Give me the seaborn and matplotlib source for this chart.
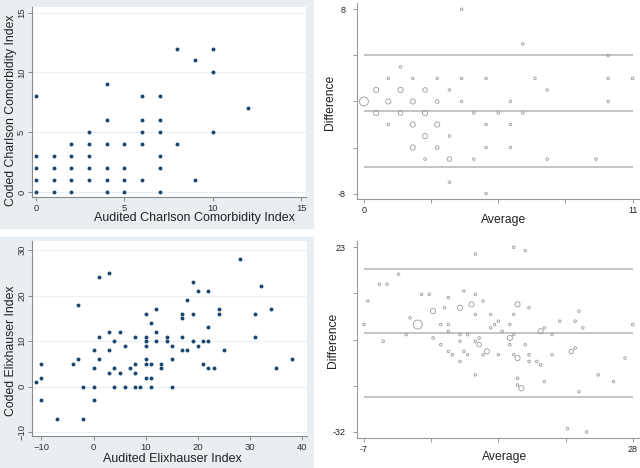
import numpy as np
import pandas as pd
import seaborn as sns
import matplotlib.pyplot as plt
from matplotlib.patches import Rectangle

# Charlson index: audited vs coded value per patient group, n = patients at that pair
ch_audited = [0, 0, 0, 0, 0,
              1, 1, 1, 1,
              2, 2, 2, 2, 2,
              3, 3, 3, 3, 3,
              4, 4, 4, 4, 4, 4,
              5, 5, 5, 5,
              6, 6, 6, 6, 6,
              7, 7, 7, 7, 7, 7,
              8, 8, 9, 9, 10, 10, 10, 12]
ch_coded = [8, 3, 2, 1, 0,
            3, 2, 1, 0,
            4, 3, 2, 1, 0,
            5, 4, 3, 2, 1,
            9, 6, 4, 2, 1, 0,
            4, 2, 1, 0,
            8, 6, 5, 4, 1,
            8, 6, 5, 3, 2, 0,
            12, 4, 11, 1, 12, 10, 5, 7]
ch_n = [1, 1, 1, 4, 12,
        1, 4, 4, 4,
        1, 3, 4, 3, 1,
        1, 1, 2, 4, 4,
        1, 1, 1, 4, 4, 4,
        1, 1, 2, 1,
        1, 1, 1, 1, 3,
        1, 1, 1, 1, 1, 1,
        1, 1, 1, 1, 1, 1, 1, 1]

# Elixhauser index
el_audited = [-11, -10, -10, -10, -7, -4, -3, -3, -2, -2,
              0, 0, 0, 0, 1, 1, 1, 3, 3, 3, 3, 4, 4, 4, 5, 5, 6, 6, 7,
              8, 8, 8, 8, 9, 10, 10, 10, 10, 10, 10, 10, 11, 11, 11, 11,
              12, 12, 12, 13, 13, 14, 14, 15, 15, 15, 17, 17, 17, 17,
              18, 18, 19, 19, 19, 20, 20, 21, 21, 22, 22, 22, 22, 23,
              24, 24, 25, 28, 31, 31, 32, 34, 35, 38]
el_coded = [1, 5, 2, -3, -7, 5, 18, 6, 0, -7,
            8, 4, 0, -3, 24, 11, 6, 25, 12, 8, 3, 10, 4, 0, 12, 3, 9, 0, 4,
            11, 5, 3, 0, 0, 16, 11, 10, 9, 6, 5, 2, 14, 5, 2, 0,
            17, 12, 10, 5, 4, 11, 10, 9, 6, 0, 16, 15, 11, 8,
            19, 8, 23, 16, 10, 21, 9, 10, 5, 21, 13, 10, 4, 4,
            17, 16, 8, 28, 16, 11, 22, 17, 4, 6]
el_n = [1, 1, 1, 1, 1, 1, 1, 1, 1, 1,
        1, 4, 12, 1, 1, 1, 1, 1, 1, 4, 1, 4, 1, 1, 1, 1, 1, 1, 1,
        1, 1, 1, 1, 1, 4, 1, 1, 1, 1, 1, 1, 1, 3, 1, 1,
        1, 1, 1, 4, 1, 1, 4, 1, 1, 1, 1, 4, 1, 1,
        1, 4, 1, 1, 1, 1, 1, 1, 1, 1, 1, 1, 1, 4,
        1, 3, 1, 1, 1, 1, 1, 1, 1, 1]

# mean difference and limits of agreement as drawn
ch_limits = [4.0, -0.84, -5.7]
el_limits = [16.5, -2.5, -21.7]

ch_ticks = [0, 5, 10, 15]
el_xticks = [-10, 0, 10, 20, 30, 40]
el_yticks = [-10, 0, 10, 20, 30]
ba1_xticks = [0, 2.75, 5.5, 8.25, 11]
ba1_yticks = [-8, -4, 0, 4, 8]
ba2_xticks = [-7, 1.75, 10.5, 19.25, 28]
ba2_yticks = [-32, -18.25, -4.5, 9.25, 23]

sns.set_style("white")
plt.rcParams['font.family'] = ['Liberation Sans', 'DejaVu Sans']

W, H = 640, 468
fig = plt.figure(figsize=(6.4, 4.68), dpi=100)


def px_axes(l, t, r, b):
    return fig.add_axes([l / W, 1 - b / H, (r - l) / W, (b - t) / H])


# light Stata graph region behind the two scatter plots
for top, bottom in [(0, 228), (237, 468)]:
    fig.patches.append(Rectangle((0, 1 - bottom / H), 313 / W, (bottom - top) / H,
                                 transform=fig.transFigure, color='#e8eef1', zorder=-5))


def stata_scatter(ax, x, y, xticks, yticks, xlim, ylim, xlabel, ylabel, xl_pos, yl_pos, ypad):
    sns.scatterplot(x=x, y=y, ax=ax, color='#1a476f', s=8, linewidth=0, zorder=3)
    ax.set_xlim(xlim)
    ax.set_ylim(ylim)
    ax.set_xticks(xticks)
    ax.set_yticks(yticks)
    ax.yaxis.grid(True, color='#e9eff2', lw=0.8)
    ax.set_axisbelow(True)
    for s in ['top', 'right']:
        ax.spines[s].set_visible(False)
    for s in ['left', 'bottom']:
        ax.spines[s].set_color('#8a8a8a')
        ax.spines[s].set_linewidth(0.8)
    ax.tick_params(length=2.6, width=0.7, color='#8a8a8a', labelsize=6.8,
                   labelcolor='#333333', left=True, bottom=True)
    ax.tick_params(axis='x', pad=2.5)
    ax.tick_params(axis='y', pad=ypad)
    for lbl in ax.get_yticklabels():
        lbl.set_rotation(90)
        lbl.set_va('center')
    ax.set_xlabel(xlabel, fontsize=9, color='#222222', va='center')
    ax.set_ylabel(ylabel, fontsize=8.8, color='#222222', va='center')
    ax.xaxis.set_label_coords(*xl_pos)
    ax.yaxis.set_label_coords(*yl_pos)


def ba_plot(ax, audited, coded, n, limits, xticks, yticks, xlabels, ylabels, xlim, ylim, xl_pos, yl_pos):
    df = pd.DataFrame({'audited': audited, 'coded': coded, 'n': n})
    df['Average'] = (df.audited + df.coded) / 2
    df['Difference'] = df.coded - df.audited
    ax.hlines(limits, xticks[0], xticks[-1], color='#b4b4b4', lw=1.1, zorder=1)
    sns.scatterplot(data=df, x='Average', y='Difference', size='n', sizes=(3.5, 42),
                    size_norm=(1, 12), facecolor='none', edgecolor='#9a9a9a',
                    linewidth=0.6, legend=False, ax=ax, zorder=3)
    ax.set_xlim(xlim)
    ax.set_ylim(ylim)
    ax.set_xticks(xticks)
    ax.set_xticklabels(xlabels)
    ax.set_yticks(yticks)
    ax.set_yticklabels(ylabels)
    for s in ['top', 'right']:
        ax.spines[s].set_visible(False)
    for s in ['left', 'bottom']:
        ax.spines[s].set_color('#9a9a9a')
        ax.spines[s].set_linewidth(0.8)
    ax.tick_params(length=2.6, width=0.7, color='#9a9a9a', labelsize=6.5,
                   labelcolor='#222222', left=True, bottom=True)
    ax.tick_params(axis='y', pad=5.5)
    ax.tick_params(axis='x', pad=2.5)
    ax.set_xlabel('Average', fontsize=8.7, color='#222222', va='center')
    ax.set_ylabel('Difference', fontsize=8.7, color='#222222', va='center')
    ax.xaxis.set_label_coords(*xl_pos)
    ax.yaxis.set_label_coords(*yl_pos)


ax1 = px_axes(31.7, 7.3, 306, 197.3)
stata_scatter(ax1, ch_audited, ch_coded, ch_ticks, ch_ticks, (-0.24, 15.28), (-0.45, 15.45),
              'Audited Charlson Comorbidity Index', 'Coded Charlson Comorbidity Index',
              (0.592, -0.109), (-0.077, 0.456), 1.4)

ax3 = px_axes(31.7, 240.7, 306.7, 435.7)
stata_scatter(ax3, el_audited, el_coded, el_xticks, el_yticks, (-11.84, 40.84), (-10.75, 32.04),
              'Audited Elixhauser Index', 'Coded Elixhauser Index',
              (0.512, -0.119), (-0.074, 0.434), 1.0)

ax2 = px_axes(357.3, 3.3, 640, 199.3)
ba_plot(ax2, ch_audited, ch_coded, ch_n, ch_limits, ba1_xticks, ba1_yticks,
        ['0', '', '', '', '11'], ['-8', '', '', '', '8'], (-0.27, 11.3), (-8.49, 8.52),
        (0.519, -0.106), (-0.097, 0.496))

ax4 = px_axes(357.3, 240.7, 640, 438)
ba_plot(ax4, el_audited, el_coded, el_n, el_limits, ba2_xticks, ba2_yticks,
        ['-7', '', '', '', '28'], ['-32', '', '', '', '23'], (-7.87, 28.95), (-33.8, 24.97),
        (0.520, -0.095), (-0.085, 0.493))

fig.savefig('out.png', dpi=100)
